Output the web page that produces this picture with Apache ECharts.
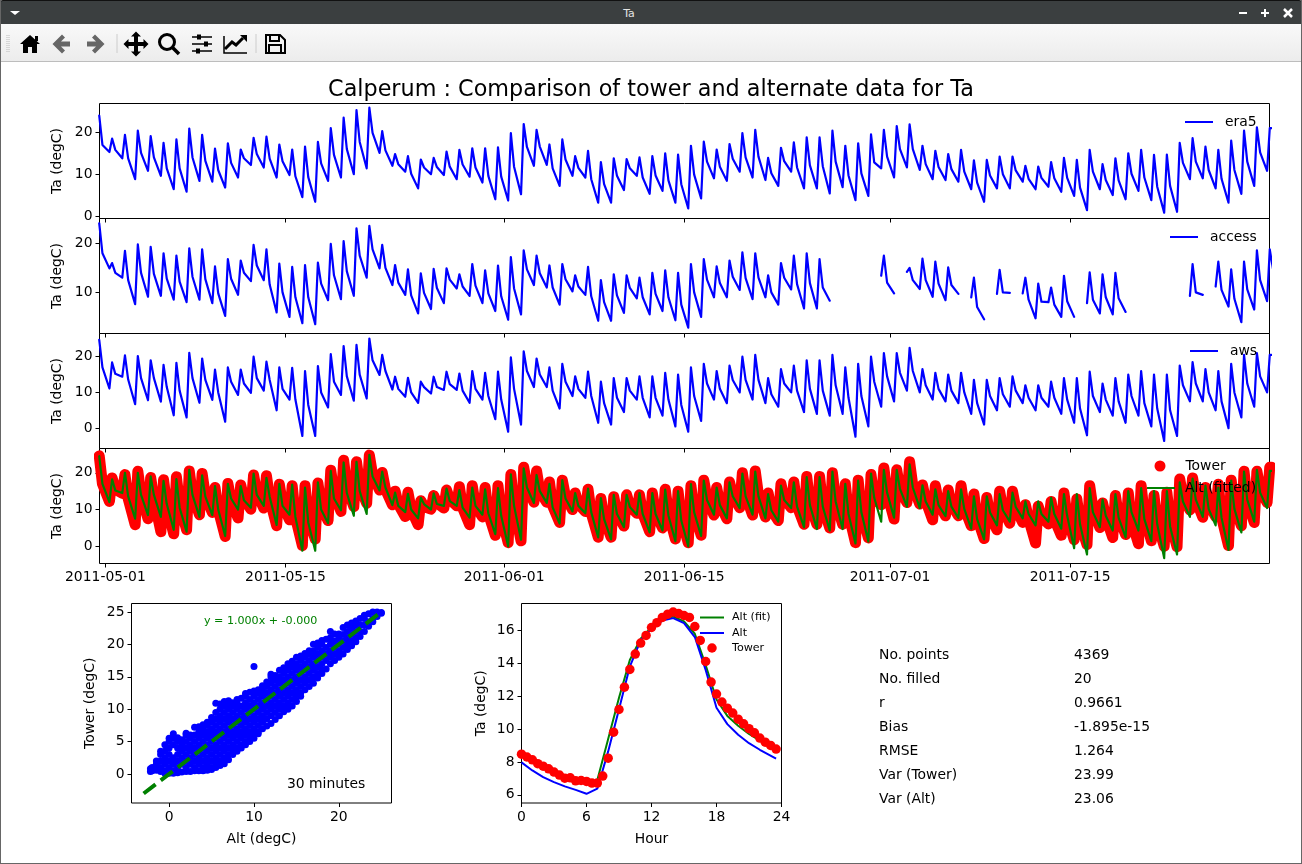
<!DOCTYPE html>
<html><head><meta charset="utf-8">
<script src="https://cdn.jsdelivr.net/npm/echarts@6/dist/echarts.min.js"></script>
<style>
html,body{margin:0;padding:0;background:#fff;overflow:hidden}
#chart{position:absolute;left:0;top:0;width:1302px;height:864px}
#bar{position:absolute;left:0;top:0;width:1258px;height:24px;background:#3b3f40;border-top:1px solid #111;box-sizing:border-box;border-radius:3px 0 0 0;color:#e4e4e4;font:11px "DejaVu Sans";text-align:center;line-height:25px}
#bar2{position:absolute;left:1258px;top:0;width:44px;height:24px;background:#3b3f40;border-top:1px solid #111;box-sizing:border-box;border-radius:0 3px 0 0}
#tools{position:absolute;left:1px;top:24px;width:1300px;height:38px;background:linear-gradient(#f9f9f9,#ececec);border-bottom:1px solid #bdbdbd;box-sizing:border-box}
#frame{position:absolute;left:0;top:0;width:1302px;height:864px;box-sizing:border-box;border-left:1px solid #666;border-right:1px solid #666;border-bottom:1px solid #666;pointer-events:none}
svg{position:absolute;left:0;top:0}
</style></head><body>
<div id="chart"></div>
<div id="bar">Ta</div><div id="bar2"></div>
<div id="tools"></div>
<div id="frame"></div>
<svg width="1302" height="64">
<polygon points="10,11 20,11 15,15" fill="#fff"/>
<path d="M1239 13h8M1261 13h8M1265 9v8" stroke="#fff" stroke-width="2" fill="none"/>
<path d="M1284 9l8 8M1292 9l-8 8" stroke="#fff" stroke-width="2.5" fill="none"/>
<path d="M7 35v18M9 35v18" stroke="#bbb" stroke-width="1" stroke-dasharray="1 1" fill="none"/>
<path d="M30 35l10 9h-3v9h-5v-6h-4v6h-5v-9h-3z" fill="#000"/><rect x="35" y="36" width="3" height="5"/>
<path d="M70 41.5H61l4-4-3-3-9.500 9.500 9.500 9.500 3-3-4-4h9z" fill="#666"/>
<path d="M87 41.5h9l-4-4 3-3 9.500 9.500-9.500 9.500-3-3 4-4h-9z" fill="#666"/>
<path d="M117 34v19M256 34v19" stroke="#ccc"/>
<path d="M136 32l5 5h-3v5.500h5.500v-3l5 5-5 5v-3H138v5.500h3l-5 5-5-5h3V46.500h-5.500v3l-5-5 5-5v3H134V37h-3z" fill="#000" transform="translate(0,-.5)"/>
<circle cx="167" cy="42" r="7.500" fill="none" stroke="#000" stroke-width="3"/><path d="M172 47l7 7" stroke="#000" stroke-width="3.500"/>
<path d="M192 37h20M192 44h20M192 51h20" stroke="#000" stroke-width="1.500"/><path d="M197 34.500h4v5h-4zM204 41.500h4v5h-4zM196 48.500h4v5h-4z" fill="#000"/>
<path d="M224 36v17h23" stroke="#000" stroke-width="1.500" fill="none"/><path d="M225 49l7-7 4 3 7-7" stroke="#000" stroke-width="3" fill="none"/><path d="M240 35h7v7z" fill="#000"/>
<path d="M266 35h14l5 5v13h-19z" fill="none" stroke="#000" stroke-width="2"/><path d="M270 35v6h9v-6M269 53v-8h12v8" fill="none" stroke="#000" stroke-width="2"/>
</svg>
<script>
// Rows: morning low, afternoon plateau, evening for each day from 2011-04-30
const era5 = [null,24,17, 15.3,18.5,15.8, 13.8,19.4,13.8, 8.8,20.4,15.1, 10.8,19.1,14, 9.6,17.5,11.4, 6.4,18.3,11.4, 5.8,20.9,14, 8.4,19.4,13.2, 8.2,16.1,11, 6.8,17.4,12.7, 9.2,15.9,13.8, 12.2,18.7,14.8, 11.6,19,13.7, 9.2,17.1,13.1, 9.8,15.9,9.5, 4.5,16.6,9.3, 3.4,17.7,12.6, 8.4,21,14.6, 9.2,23.5,16, 10,25.3,17.7, 11.4,25.9,19.9, 15.1,20.3,15.7, 12,14.8,12.4, 10.6,14.3,10.1, 6.6,13.5,11.6, 10,13.9,11.7, 9.8,15.4,11.8, 8.8,15.8,12.3, 9.4,16.2,11.6, 8,16.2,9.6, 4,16.4,9.4,
 3.7,19.8,11.8, 5.2,22,16.5, 12,20.6,16.6, 12.2,17.1,11.4, 7.2,18.3,13.5, 9.6,14.3,11.5, 9.2,15.6,8.8, 3.2,12.9,7.6, 3.2,13.8,9.6, 6.2,13.6,11.4, 9.6,14,9.2, 5.3,14.3,9.7, 6,15,8.5, 3.2,14.7,7.6, 1.8,16.8,9.9, 4.2,17.8,13, 9,15.9,11.8, 8.4,17.2,13.7, 10.6,19.8,14, 9.2,20.6,14.2, 8.6,13.9,10.2, 7.2,16.3,13.1, 10.6,17.6,11.6, 6.6,18.8,12.1, 6.6,18.8,11.9, 5.4,20.4,13, 6.9,16.8,9.7, 3.8,17.4,10.2, 4.8,19.5,12.8, 11.4,20.6,14.2,
 9.2,21.5,16, 11.6,21.9,16, 11,16.8,12.4, 8.8,15.6,11.7, 8.6,14.8,11.2, 8.2,15.8,10.6, 6.4,13.3,8, 3.4,13.4,9.7, 6.6,14.2,10, 6.6,14.2,10.9, 8.2,12,8.9, 6.4,11.8,9.1, 7,12.9,9, 5.8,13.9,9.1, 4.8,13.4,6.8, 1.4,15.8,10.6, 6.4,12.4,8.6, 5,13.8,8.5, 4,15,10.1, 6,15.8,9.2, 3.8,14.6,7, 0.8,14.7,7.2, 1,17.5,12.7, 8.8,18.6,13, 9,16.6,11, 6.6,15.8,8.9, 3.2,18,11, 5.3,20.4,13, 7.2,21.2,15.2, 10.8,21,null];
const access = [null,24.1,18, 14.9,16,14, 13,18.5,12.5, 7.6,19.8,14, 9.1,19.3,13.8, 9.3,18,12.8, 8.5,17.5,12.2, 8,19,13.2, 8.5,18.8,12.7, 7.8,15.3,9.8, 5.2,16.8,12.8, 9.5,16.5,14, 12.3,19.7,15.5, 12.5,18.8,11.6, 5.9,15.9,10, 5,15.2,9, 3.7,15.6,9, 3.5,16.1,11.8, 8.4,19.9,13.5, 8.6,20.5,14.3, 9.3,23.1,17.5, 13,23.6,18.8, 14.9,19.7,15, 11.5,15.6,12, 9.5,14.7,9.4, 5.7,13.9,9.9, 6.6,14.8,10.9, 7.8,14.9,12.6, 10.8,13.7,11.2, 9.3,15.8,11.4, 7.8,14.5,9.8, 6.2,15.5,9.2,
 4.4,17.2,10.8, 5.5,18.6,14.7, 11.5,17.5,13.9, 11,15.5,11, 7.5,15.8,12.7, 10.2,13.5,11.2, 9.5,15.2,9.2, 4.2,12.5,8, 4.2,13.7,9.4, 5.8,13.5,10.9, 8.8,13,9, 5.5,14,9.7, 6.2,14.5,9, 4.3,14,7.5, 2.8,15.8,10, 5,16.8,12.6, 9,15.3,11.9, 9,16.5,13.2, 10.5,18.2,12.9, 8.6,18,13, 9,13.5,10, 7.5,16,13, 10.6,17.5,11.7, 6.7,18,11.9, 6.7,16.8,11, 8.3,null,null, null,null,null, null,null,null, null,null,null, 13.4,17.5,12,
 9.8,null,null, 14.2,15,12.5, 10.7,16.9,12.5, 9.1,16.3,11.8, 8.4,15.1,11.5, 9.7,null,null, 9,13,7, 4.5,null,null, 9.7,14.6,10, 9.9,null,null, 9.8,13,8.5, 4.7,11.8,8.1, 8,11,7.5, 5,13.4,8.2, 5,null,null, 7.8,14.1,8.5, 5.7,13.7,9, 5.5,14,8.8, 6,null,null, null,null,null, null,null,null, null,null,null, null,null,null, 9.3,15.8,10, 9.5,null,null, 11.2,16.3,10.5, 7.1,14.7,8.7, 3.9,16.3,10.6, 6.5,18.6,12.5, 8.2,18.8,14.8, 12.2,17.6,null];
const aws = [null,24.7,17, 11.1,18.4,15.2, 14.4,20.4,13.6, 6.7,20.2,14, 7.8,19,14, 7.4,17.7,11.5, 3.6,18.3,10.5, 3,21.1,14, 7.1,19.5,13.5, 7.9,16.4,10, 1.8,17,13, 9.3,16.4,12.5, 9.9,20,14, 10.5,18.6,13.5, 5,17,11, 8,16.9,8, -2.2,16,6.5, -2.2,17.4,10, 5.8,20.7,13, 9.3,23,14.5, 7.7,23.3,15, 8.3,25.1,19, 14.9,20.5,16, 10.8,14.4,11, 8.8,14.1,10, 7.1,13,11.5, 9.7,14.4,11.5, 10.7,15.8,12.3, 10.7,15.3,10.5, 7.1,16,11, 8,15.5,9, 2.5,15.8,8,
 -1,19.8,11, 1,21.5,16, 11.5,19.5,15, 11.5,17,10.5, 5.5,18,13, 9,14.5,11, 8.5,15.8,9, 1.5,13,7, 1,14,8.5, 4.5,14,10.5, 8,14.5,8.5, 3,14.5,8.5, 3.5,15.5,8, 0.5,15,6.5, -1,17,9, 2,18,12.5, 8,16,11, 7,17.5,13.5, 10,20,13.5, 8,20.5,13.5, 7,14,9.5, 6,16.5,12.5, 10,17.5,10.5, 4.5,19,11, 4,19,10.5, 3.5,20.5,12, 4,17,8.5, -2.4,18,9, 0.5,20,13, 6,21,14.5,
 7.5,21,15.5, 10.5,22.5,16, 10,16.5,12, 8,15.5,11, 7.5,15,10.5, 7,15.5,10, 4,13.5,7, 1,13.5,9, 5,14,9.5, 6,14.5,10.5, 7,12,8.5, 5,12,8.5, 6,13,8.5, 4,14,8, 1.5,14,5.5, -2,15.8,9, 4.5,12.5,8, 3.5,14,7.5, 1.5,15,9, 3.5,16,7, 0.5,15,5.5, -3.6,15,5, -2.2,17.5,12, 7.5,18.5,12.5, 7.5,16.5,10, 5,16,7.5, 0,18,10, 3,20.5,12.5, 6,21,14.5, 10,20.5,null];
const altFitted = [null,24.5,17, 12,18.2,15.2, 14.5,20,13.6, 7.5,20,14, 8.5,19,14, 8,17.8,11.5, 4.5,18.3,10.5, 4,20.8,14, 8,19.3,13.5, 8.5,16.4,10, 2.8,17,13, 10,16.4,12.5, 10.5,19.8,14, 11,18.6,13.5, 5.8,17,11, 8.6,16.8,8, -1.2,16,6.5, -1.2,17.4,10, 6.3,20.5,13, 9.8,22.8,14.5, 8.3,23,15, 8.8,24.9,19, 15.2,20.3,16, 11.2,14.6,11, 9.3,14.3,10, 7.6,13.2,11.5, 10,14.4,11.5, 11,15.7,12.3, 11,15.3,10.5, 7.8,16,11, 8.6,15.5,9, 3.3,15.8,8.3,
 0,19.6,11, 1.8,21.2,16, 11.8,19.4,15, 11.8,17,10.6, 6.2,18,13, 9.5,14.5,11, 9,15.7,9.3, 2.4,13.1,7.4, 1.9,14,8.8, 5.2,14,10.7, 8.6,14.5,8.8, 3.8,14.5,8.8, 4.3,15.4,8.4, 1.4,15,7, 0,16.9,9.3, 2.8,17.9,12.6, 8.6,16,11.2, 7.6,17.4,13.6, 10.4,19.8,13.6, 8.6,20.3,13.6, 7.6,14.2,9.8, 6.7,16.5,12.6, 10.4,17.4,10.8, 5.2,18.8,11.2, 4.7,18.8,10.8, 4.3,20.3,12.2, 4.7,17,8.8, 0.8,17.9,9.3, 1.3,19.8,13.2, 6.7,20.8,14.6,
 7.8,20.8,15.6, 10.8,22.3,16, 10.4,16.6,12.2, 8.6,15.5,11.2, 8.2,15,10.8, 7.7,15.5,10.2, 4.8,13.6,7.4, 1.9,13.6,9.2, 5.7,14.2,9.8, 6.7,14.6,10.7, 7.6,12.2,8.8, 5.7,12.2,8.8, 6.7,13.2,8.8, 4.8,14.2,8.3, -0.5,14.2,6, -2.2,15.8,9.3, 5.2,12.7,8.3, 4.3,14.2,7.8, 2.4,15,9.3, 4.3,15.8,7.4, 1.4,15,6, -3.2,15,5.4, -2.2,17.4,12.2, 8,18.4,12.7, 8,16.5,10.2, 5.7,16,7.8, -1,17.9,10.2, 3.8,20.3,12.7, 6.7,20.8,14.6, 10.4,20.5,null];
const tower = [null,24.6,17, 12.2,18.6,15.5, 14.4,19.5,13, 5.9,20.4,14, 7.5,18.7,13, 4,18.1,11, 3.4,18.9,11.5, 4.5,20.5,14, 8.6,19.8,13.8, 9.2,16,10, 2.7,17.1,12.5, 7.7,16.7,13, 10.1,19.4,14.5, 10.4,19.2,13, 5.6,16.9,11.5, 7.2,16.5,8, 0.2,16.5,8, 2,17.2,11, 7,20.7,14.5, 9.5,23.4,16, 10.8,23,16.5, 11.7,24.8,19.5, 15.3,20.1,15.5, 11.3,15,11.5, 8.1,14.7,10, 5.9,12.4,10.8, 10.1,13.8,11.8, 10.4,15.3,12.8, 11,16.2,10.5, 5.9,16.5,11, 8,16,9, 3,16.5,8.5,
 1,19.5,11, 1.5,21.5,16.5, 12,20.5,15, 12,17.5,11, 6.5,18,13.5, 10,14.5,11.5, 9.5,15.5,9, 2.5,13,7.5, 2.5,13.5,9, 5.5,14,11, 9,14,9, 4,14.5,9, 5,15.5,9, 2,15,7.5, 1,16.5,9.5, 3,18,13, 8.5,16,11.5, 7.5,17.5,14, 10.5,20,14, 8.5,20.5,14, 8,14.5,10, 7,17,13, 10.5,17.5,11, 6,19,11.5, 6,19,11, 5,20,12.5, 6,17,9, 1,18,9.5, 2.3,19.5,13, 11.3,21.3,14.5,
 7.4,20.8,15.5, 11.9,23,16.5, 11.5,16.7,12.5, 7.2,16.5,11.8, 8.3,15.3,11.5, 8.3,16.5,10.5, 5.6,14.2,7.8, 2.1,13.3,8.4, 4.5,15,10, 6.3,15,10.4, 6.5,11.3,7.5, 0.9,10.9,8, 6.1,12.2,7.5, 3,14.5,8, 1.8,12.9,6.5, 0.5,16.5,10.4, 5.1,11.8,8, 2.4,13.8,8, 3.2,14.5,7, 0.7,16.5,8.5, 1.5,13.8,6.5, 0,14.7,6.8, -0.1,18.3,13.5, 9.9,18.6,12.8, 7.9,16,11.5, 8.1,16.9,8, 0.2,18,11, 5.6,20.4,12.5, 6.5,20.4,15.5, 11.9,21.5,null];
const lowHour = 7.5, plateauHours = [12.5,15.5], eveningHour = 18.5;
const legendNames = {era5:'era5',access:'access',aws:'aws',tower:'Tower',fitted:'Alt (fitted)'};
const dateTicks = ['2011-05-01','2011-05-15','2011-06-01','2011-06-15','2011-07-01','2011-07-15'];
// Scatter columns: first number is Alt, the rest are Tower values read at that Alt
const scatterColumns = [
[-2.2,.4,.8],[-2,.5,1],[-1.5,.6,1.5,2],[-1,.4,1,2,3,3.5],[-.5,.1,.5,1.5,2.5,3.5,4.5],[0,.1,1,2,3,4,5,5.5],[.5,.1,.5,1.5,2.5,4.5,5.5,6.2],[1,.2,1,2,3,4,5,5.6],[1.5,.3,1.5,2.5,3.5,4.5,5.3],[2,.4,1,2,3,4,5,6,6.3],[2.5,.4,1.5,2.5,3.5,4.5,5.5,6],[3,.5,1,2,3,4,5,6,7.2],[3.5,.5,1.5,2.5,3.5,4.5,5.5,6.5,7.3],[4,.5,1,2,3,4,5,6,7,7.6],[4.5,.6,1.5,2.5,3.5,4.5,5.5,6.5,7.5,8],[5,.7,1,2,3,4,5,6,7,8,8.7],[5.5,1,1.5,2.5,3.5,4.5,5.5,6.5,7.5,8.5,9.5,10.9],[6,1.3,2,3,4,5,6,7,8,9,10,10.8],[6.5,1.6,2.5,3.5,4.5,5.5,6.5,7.5,8.5,9.5,10.5,11.2],[7,2.2,3,4,5,6,7,8,9,10,11,11.3],
[7.5,3,3.5,4.5,5.5,6.5,7.5,8.5,9.5,10.5,11],[8,3.5,4,5,6,7,8,9,10,11,11.5],[8.5,4,4.5,5.5,6.5,7.5,8.5,9.5,10.5,11.7],[9,4.5,5,6,7,8,9,10,11,12,12.4],[9.5,5,5.5,6.5,7.5,8.5,9.5,10.5,11.5,12.6],[10,5.5,6,7,8,9,10,11,12,12.8,16.6],[10.5,6.2,6.5,7.5,8.5,9.5,10.5,11.5,12.5,13],[11,7,8,9,10,11,12,13,13.6],[11.5,7.4,8.5,9.5,10.5,11.5,12.5,13.5,14.2],[12,7.8,9,10,11,12,13,14,15,15.4],[12.5,8.4,9.5,10.5,11.5,12.5,13.5,14.5,15.2],[13,9,10,11,12,13,14,15,16],[13.5,9.6,10.5,11.5,12.5,13.5,14.5,15.5,16.4],[14,10,11,12,13,14,15,16,17],[14.5,10.5,11.5,12.5,13.5,14.5,15.5,16.5,17.4],[15,11.2,12,13,14,15,16,17,18],[15.5,12,12.5,13.5,14.5,15.5,16.5,17.5,18.2],[16,13,14,15,16,17,18,18.6],[16.5,13.5,14.5,15.5,16.5,17.5,18.5,19],[17,14,15,16,17,18,19,20],
[17.5,14.8,15.5,16.5,17.5,18.5,19.5,20.2],[18,15.5,16,17,18,19,20,20.6],[18.5,16.2,17.5,18.5,19.5,20.8],[19,17,18,19,20,21,22],[19.5,17.5,18.5,19.5,20.5,21.6],[20,18,19,20,21,21.6],[20.5,18.5,19.5,20.5,21.5,22.6],[21,19.2,20,21,22,23],[21.5,19.8,20.5,21.5,22.5,23.3],[22,20.4,21,22,23,23.6],[22.5,21.2,22,23,24],[23,22,23,24,24.5],[23.5,22.8,23.5,24.7],[24,23.5,24,25],[24.5,24.3,25],[25,24.8,24.9]];
const fitLineX = [-3,25];
const fitLineY = [-3,25];
const towerHour = [0,.5,1,1.5,2,2.5,3,3.5,4,4.5,5,5.5,6,6.5,7,7.5,8,8.5,9,9.5,10,10.5,11,11.5,12,12.5,13,13.5,14,14.5,15,15.5,16,16.5,17,17.5,18,18.5,19,19.5,20,20.5,21,21.5,22,22.5,23,23.5];
const towerMean = [8.47,8.3,8.13,7.89,7.74,7.58,7.38,7.2,7.01,7.03,6.85,6.87,6.81,6.71,6.71,7.14,8.23,9.81,11.19,12.55,13.63,14.56,15.23,15.7,16.18,16.47,16.79,16.99,17.12,17.03,16.91,16.79,16.24,15.39,14.11,12.86,12.13,11.64,11.27,10.97,10.6,10.32,10.02,9.77,9.45,9.2,9,8.78];
const altHour = [0,1,2,3,4,5,6,7,8,9,10,11,12,13,14,15,16,17,18,19,20,21,22,23.5];
const altMean = [7.97,7.48,7.07,6.77,6.51,6.3,6.06,6.37,8.64,11.2,13.8,15.4,16.1,16.6,16.75,16.45,15.6,13.6,11.3,10.3,9.65,9.14,8.74,8.2];
const altFitMean = [8.4,8.1,7.7,7.4,7.1,6.9,6.7,6.9,9.4,11.9,14.2,15.5,16.2,16.7,16.85,16.55,15.8,13.9,11.8,10.8,10.2,9.7,9.3,8.8];
const statLabels = ['No. points','No. filled','r','Bias','RMSE','Var (Tower)','Var (Alt)'];
const statValues = ['4369','20','0.9661','-1.895e-15','1.264','23.99','23.06'];

const FONT = '"DejaVu Sans"';
const SZ = 13.9;
const BLUE = '#0000ff', GREEN = '#008000', RED = '#ff0000';
function toSeries(rows){
  const out = [];
  const stamp = (d,h)=>Date.UTC(2011,3,30+d)+h*3600000;
  for(let i=0;i<rows.length;i+=3){
    const d = i/3;
    out.push([stamp(d,lowHour),rows[i]]);
    plateauHours.forEach(h=>out.push([stamp(d,h),rows[i+1]]));
    out.push([stamp(d,eveningHour),rows[i+2]]);
  }
  return out;
}
const ms = s=>Date.parse(s+'T00:00:00Z');
const tickMs = dateTicks.map(ms);
const xMin = Date.UTC(2011,3,30,13), xMax = Date.UTC(2011,6,30,12);
const panels = [
 {top:103.5,min:-.6,max:26.9,ticks:[0,10,20]},
 {top:218.5,min:1.6,max:25.1,ticks:[10,20]},
 {top:333.5,min:-5.7,max:26.5,ticks:[0,10,20]},
 {top:448.5,min:-4.67,max:26.6,ticks:[0,10,20]}
];
const txt = {color:'#000',fontFamily:FONT,fontSize:SZ};
const noLine = {show:false,onZero:false};
const grids = panels.map(p=>({left:99.5,top:p.top,width:1170,height:115,show:true,borderColor:'#000',borderWidth:1,backgroundColor:'transparent'}));
grids.push({left:131.5,top:603.5,width:260,height:199.5,show:true,borderColor:'#000',borderWidth:1});
grids.push({left:521.5,top:603.5,width:260,height:199.5,show:true,borderColor:'#000',borderWidth:1});
const tick = {show:true,length:4,lineStyle:{color:'#000',width:1}};
const xAxes = panels.map((p,i)=>({type:'value',gridIndex:i,min:xMin,max:xMax,splitLine:{show:false},axisLine:noLine,
  axisTick:{...tick,customValues:tickMs},
  axisLabel:{show:i===3,...txt,margin:7,customValues:tickMs,hideOverlap:false,formatter:v=>new Date(v).toISOString().slice(0,10)}}));
const yAxes = panels.map((p,i)=>({type:'value',gridIndex:i,min:p.min,max:p.max,splitLine:{show:false},axisLine:noLine,
  name:'Ta (degC)',nameLocation:'middle',nameGap:35,nameTextStyle:txt,
  axisTick:{...tick,customValues:p.ticks},axisLabel:{...txt,margin:7,customValues:p.ticks}}));
xAxes.push({type:'value',gridIndex:4,min:-4.43,max:26.2,splitLine:{show:false},axisLine:noLine,name:'Alt (degC)',nameLocation:'middle',nameGap:29,nameTextStyle:txt,
  axisTick:{...tick,customValues:[0,10,20]},axisLabel:{...txt,margin:7,customValues:[0,10,20]}});
yAxes.push({type:'value',gridIndex:4,min:-4.47,max:26.3,splitLine:{show:false},axisLine:noLine,name:'Tower (degC)',nameLocation:'middle',nameGap:34,nameTextStyle:txt,
  axisTick:{...tick,customValues:[0,5,10,15,20,25]},axisLabel:{...txt,margin:7,customValues:[0,5,10,15,20,25]}});
xAxes.push({type:'value',gridIndex:5,min:0,max:24,splitLine:{show:false},axisLine:noLine,name:'Hour',nameLocation:'middle',nameGap:29,nameTextStyle:txt,
  axisTick:{...tick,customValues:[0,6,12,18,24]},axisLabel:{...txt,margin:7,customValues:[0,6,12,18,24]}});
yAxes.push({type:'value',gridIndex:5,min:5.5,max:17.64,splitLine:{show:false},axisLine:noLine,name:'Ta (degC)',nameLocation:'middle',nameGap:33,nameTextStyle:txt,
  axisTick:{...tick,customValues:[6,8,10,12,14,16]},axisLabel:{...txt,margin:7,customValues:[6,8,10,12,14,16]}});

function line(name,rows,i,color,width,extra){
  return Object.assign({type:'line',name,xAxisIndex:i,yAxisIndex:i,data:toSeries(rows),showSymbol:false,symbol:'none',connectNulls:false,
    lineStyle:{color,width,cap:'round',join:'round'},itemStyle:{color},emphasis:{disabled:true}},extra||{});
}
const scatterData = [];
scatterColumns.forEach(c=>c.slice(1).forEach(y=>scatterData.push([c[0],y])));
const zip = (a,b)=>a.map((v,i)=>[v,b[i]]);
const hline = (name,x,y,color)=>({type:'line',name:name,xAxisIndex:5,yAxisIndex:5,data:zip(x,y),symbol:'none',showSymbol:false,lineStyle:{color,width:2},itemStyle:{color},emphasis:{disabled:true}});
const series = [
 line(legendNames.era5,era5,0,BLUE,2.2),
 line(legendNames.access,access,1,BLUE,2.2),
 line(legendNames.aws,aws,2,BLUE,2.2),
 line(legendNames.tower,tower,3,RED,11),
 line(legendNames.fitted,altFitted,3,GREEN,2.2),
 {type:'scatter',name:'Tower vs Alt',xAxisIndex:4,yAxisIndex:4,data:scatterData,symbolSize:7,itemStyle:{color:BLUE,opacity:1},emphasis:{disabled:true}},
 {type:'line',name:'fit line',xAxisIndex:4,yAxisIndex:4,data:zip(fitLineX,fitLineY),symbol:'none',showSymbol:false,lineStyle:{color:GREEN,width:4,type:[15,6.5]},emphasis:{disabled:true},z:5},
 hline('Alt (fit)',altHour,altFitMean,GREEN),
 hline('Alt',altHour,altMean,BLUE),
 {type:'scatter',name:'Tower (mean)',xAxisIndex:5,yAxisIndex:5,data:zip(towerHour,towerMean),symbolSize:9.5,itemStyle:{color:RED,opacity:1},emphasis:{disabled:true},z:6}
];
const lg = (names,left,top,extra)=>Object.assign({show:true,data:names,left,top,orient:'vertical',itemWidth:28,itemHeight:10,itemGap:0,padding:0,selectedMode:false,backgroundColor:'transparent',z:20},extra||{});
const lt = (pad,fs,lh)=>({...txt,fontSize:fs||SZ,lineHeight:lh||20,padding:[0,0,0,pad]});
const legends = [
 lg([{name:'era5',icon:'rect'}],1185,112,{itemHeight:2,textStyle:lt(7)}),
 lg([{name:'access',icon:'rect'}],1170,227,{itemHeight:2,textStyle:lt(7)}),
 lg([{name:'aws',icon:'rect'}],1190,341,{itemHeight:2,textStyle:lt(7)}),
 lg([{name:'Tower',icon:'circle'}],1154.5,456,{itemHeight:11,textStyle:lt(6.5)}),
 lg([{name:'Alt (fitted)',icon:'rect'}],1147,478,{itemHeight:2,textStyle:lt(5)}),
 lg([{name:'Alt (fit)',icon:'rect'}],700,610,{itemWidth:24,itemHeight:2,textStyle:lt(3,11.1,15)}),
 lg([{name:'Alt',icon:'rect'}],700,625.5,{itemWidth:24,itemHeight:2,textStyle:lt(3,11.1,15)}),
 lg([{name:'Tower (mean)',icon:'circle'}],707.25,640.5,{itemWidth:24,itemHeight:9.5,formatter:()=>'Tower',textStyle:lt(3,11.1,15)})
];
const graphic = [];
const label = (x,y,t,style)=>graphic.push({type:'text',left:x,top:y,z:30,style:Object.assign({text:t,fill:'#000',font:SZ+'px '+FONT},style||{})});
statLabels.forEach((t,i)=>{label(879,648.5+24*i,t);label(1074,648.5+24*i,statValues[i]);});
label(204,616,'y = 1.000x + -0.000',{fill:GREEN,font:'11.1px '+FONT});
label(287,777,'30 minutes');

const chart = echarts.init(document.getElementById('chart'),null,{renderer:'canvas',width:1302,height:864});
chart.setOption({
  animation:false,backgroundColor:'#fff',
  title:{text:'Calperum : Comparison of tower and alternate data for Ta',left:646,top:74,textAlign:'center',textStyle:{color:'#000',fontFamily:FONT,fontSize:22.3,fontWeight:'normal'}},
  grid:grids,xAxis:xAxes,yAxis:yAxes,series,legend:legends,graphic:{elements:graphic},tooltip:{show:false}
});
</script>
</body></html>
